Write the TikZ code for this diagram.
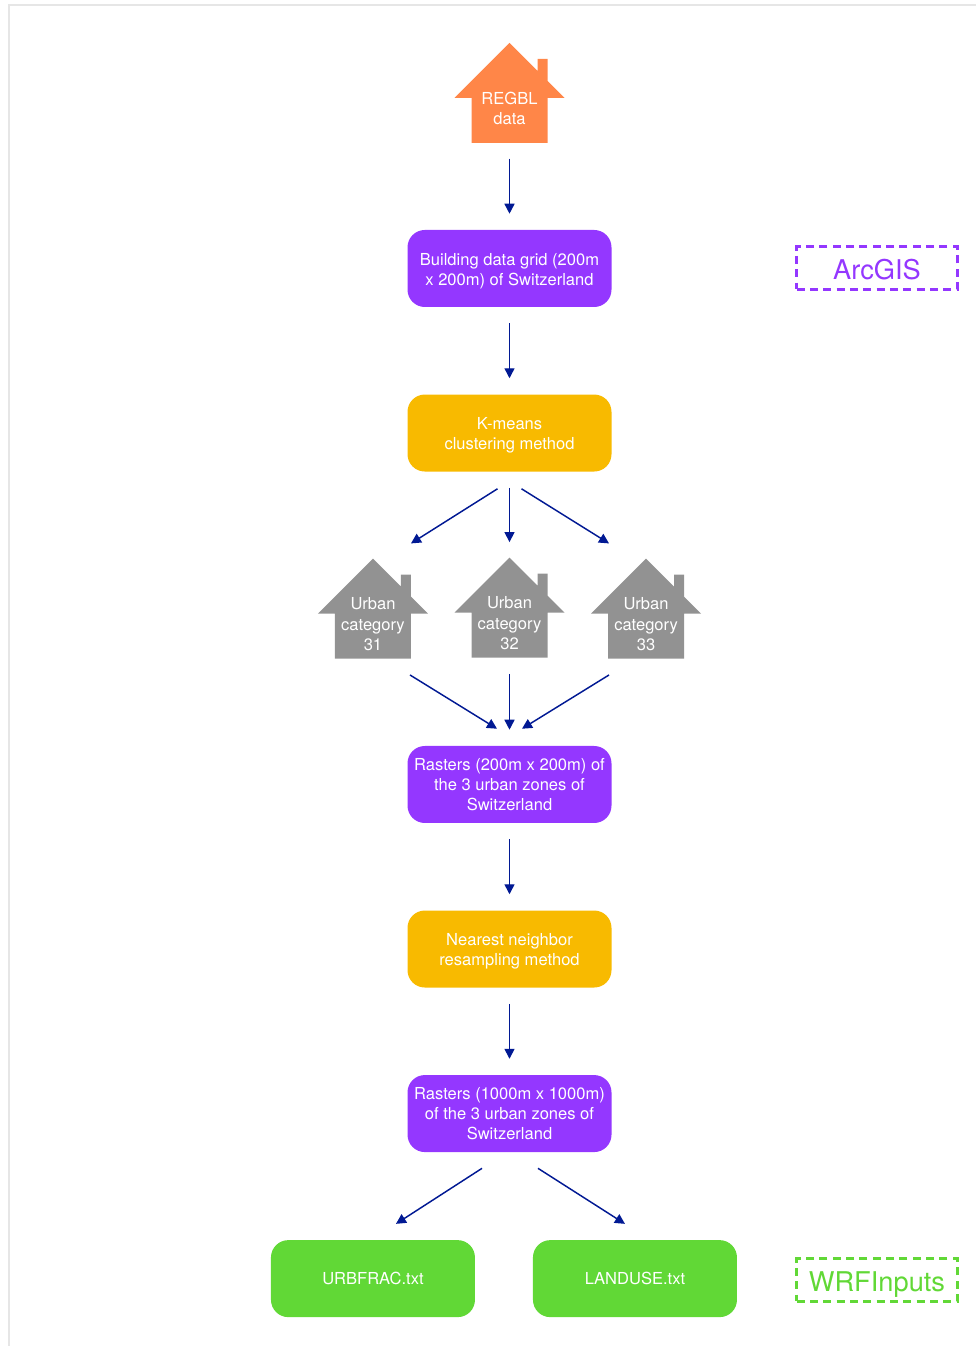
\documentclass[tikz,border=0pt]{standalone}
\usepackage{fontspec}
\setmainfont{TeX Gyre Heros}
\usepackage{tikz}
\usetikzlibrary{arrows.meta}
\definecolor{framegray}{RGB}{230,230,230}
\definecolor{midnight}{RGB}{1,25,147}
\definecolor{grape}{RGB}{148,55,255}
\definecolor{tangerine}{RGB}{248,186,0}
\definecolor{spring}{RGB}{97,216,54}
\definecolor{cantaloupe}{RGB}{255,134,72}
\definecolor{steel}{RGB}{146,146,146}
\tikzstyle{boxtext} = [text=white, align=center, inner sep=0pt, font=\fontsize{12.4}{15.2}\selectfont]
\tikzstyle{databox} = [boxtext, rectangle, rounded corners=13pt, minimum width=153pt, minimum height=57.75pt, fill=grape]
\tikzstyle{methodbox} = [databox, fill=tangerine]
\tikzstyle{outputbox} = [databox, fill=spring]
\tikzstyle{housebox} = [rectangle, minimum width=82.5pt, minimum height=75pt, inner sep=0pt]
\tikzstyle{legendbox} = [rectangle, line width=2.5pt, dash pattern=on 6pt off 4pt, minimum width=120.5pt, minimum height=32pt, inner sep=0pt, text height=18pt, text depth=0pt, font=\fontsize{20.4}{24}\selectfont]
\tikzstyle{arrow} = [line width=1.1pt, midnight, -{Triangle[length=7.5pt,width=7.5pt]}]
\newcommand{\toplift}{\rule{0pt}{12.8pt}}
\newcommand{\housenode}[4]{
\node (#1) [housebox, #3] {};
\fill[#2, shift={(#1.center)}] (0,50) -- (28,22) -- (28,34) -- (38,34) -- (38,12) -- (55,-5) -- (38,-5) -- (38,-50) -- (-38,-50) -- (-38,-5) -- (-55,-5) -- cycle;
\node (#1text) [boxtext] at ([yshift=-11.6pt]#1.center) {#4};
}
\begin{document}
\begin{tikzpicture}[x=.75pt,y=.75pt]
\useasboundingbox (0,0) rectangle (976,1346);
\draw[framegray, line width=1.5pt] (9,0) -- (9,1341) -- (976,1341);
\housenode{regbl}{cantaloupe}{at={(509.5,1253)}}{REGBL\\data}
\node (grid) [databox, at={(509.5,1077.5)}] {\toplift Building data grid (200m\\x 200m) of Switzerland};
\node (kmeans) [methodbox, below of=grid, node distance=123.4pt] {\toplift K-means\\clustering method};
\housenode{cat32}{steel}{below of=kmeans, node distance=131pt}{Urban\\category\\32}
\housenode{cat31}{steel}{left of=cat32, node distance=102.4pt, yshift=-.75pt}{Urban\\category\\31}
\housenode{cat33}{steel}{right of=cat32, node distance=102.4pt, yshift=-.75pt}{Urban\\category\\33}
\node (raster200) [databox, below of=kmeans, node distance=263.6pt] {Rasters (200m x 200m) of\\the 3 urban zones of\\Switzerland};
\node (nearest) [methodbox, below of=raster200, node distance=123.4pt] {\toplift Nearest neighbor\\resampling method};
\node (raster1000) [databox, below of=nearest, node distance=123.4pt] {Rasters (1000m x 1000m)\\of the 3 urban zones of\\Switzerland};
\node (urbfrac) [outputbox, below of=raster1000, node distance=123.8pt, xshift=-102.4pt] {URBFRAC.txt};
\node (landuse) [outputbox, right of=urbfrac, node distance=196.5pt] {LANDUSE.txt};
\node (arcgis) [legendbox, draw=grape, text=grape, at={(877,1078)}] {ArcGIS};
\node (wrfinputs) [legendbox, draw=spring, text=spring, at={(877,66)}] {WRFInputs};
\draw[arrow] ([yshift=-11.6pt]regbl.south) -- ([yshift=12pt]grid.north);
\draw[arrow] ([yshift=-12pt]grid.south) -- ([yshift=12pt]kmeans.north);
\draw[arrow] ([shift={(-12,-17)}]kmeans.south) -- ([shift={(38,15)}]cat31.north);
\draw[arrow] ([yshift=-12pt]kmeans.south) -- ([yshift=11.5pt]cat32.north);
\draw[arrow] ([shift={(12,-17)}]kmeans.south) -- ([shift={(-37,15)}]cat33.north);
\draw[arrow] ([shift={(37,-16)}]cat31.south) -- ([shift={(-12.5,17)}]raster200.north);
\draw[arrow] ([yshift=-12pt]cat32.south) -- ([yshift=12pt]raster200.north);
\draw[arrow] ([shift={(-37,-16)}]cat33.south) -- ([shift={(12.5,17)}]raster200.north);
\draw[arrow] ([yshift=-12pt]raster200.south) -- ([yshift=12pt]nearest.north);
\draw[arrow] ([yshift=-12pt]nearest.south) -- ([yshift=12pt]raster1000.north);
\draw[arrow] ([shift={(-27.5,-16)}]raster1000.south) -- ([shift={(23,16)}]urbfrac.north);
\draw[arrow] ([shift={(28.5,-16)}]raster1000.south) -- ([shift={(-10,16)}]landuse.north);
\end{tikzpicture}
\end{document}
